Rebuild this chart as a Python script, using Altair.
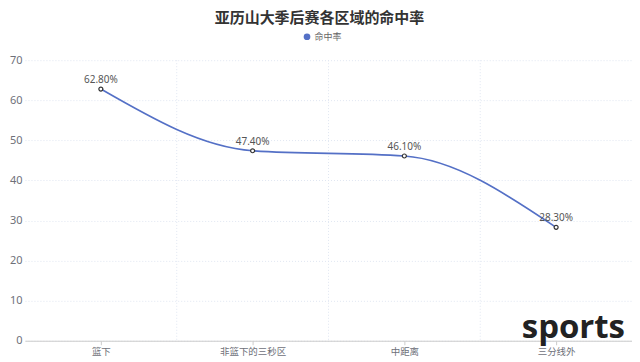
import altair as alt
import pandas as pd

categories = ["篮下", "非篮下的三秒区", "中距离", "三分线外"]
values = [62.8, 47.4, 46.1, 28.3]
labels = ["62.80%", "47.40%", "46.10%", "28.30%"]
series = "命中率"
boundaries = [-0.5, 0.5, 1.5, 2.5, 3.5]

df = pd.DataFrame({
    "idx": list(range(len(categories))),
    "cat": categories,
    "val": values,
    "lab": labels,
    "series": [series] * len(categories),
})

label_expr = "[" + ",".join(f"'{c}'" for c in categories) + "][datum.value]"

blue = "#5470c6"
axis_grey = "#6e7079"
grid_grey = "#e0e6f1"

xscale = alt.Scale(domain=[-0.5, 3.5], nice=False, zero=False)
yscale = alt.Scale(domain=[0, 70], nice=False)

x_main = alt.X(
    "idx:Q", scale=xscale, title=None,
    axis=alt.Axis(values=[0, 1, 2, 3], labelExpr=label_expr, grid=False,
                  domainColor="#ccc", tickColor="#ccc", tickSize=4,
                  labelColor=axis_grey, labelFontSize=9.5, labelPadding=2,
                  labelFont="Noto Sans CJK SC"),
)
y_main = alt.Y(
    "val:Q", scale=yscale, title=None,
    axis=alt.Axis(values=[0, 10, 20, 30, 40, 50, 60, 70], grid=True,
                  gridColor=grid_grey, gridDash=[1, 2], domain=False, ticks=False,
                  labelColor=axis_grey, labelFontSize=11, labelPadding=3,
                  labelFont="Noto Sans"),
)

line = alt.Chart(df).mark_line(interpolate="monotone", strokeWidth=1.6).encode(
    x=x_main,
    y=y_main,
    color=alt.Color(
        "series:N", scale=alt.Scale(range=[blue]), title=None,
        legend=alt.Legend(orient="none", legendX=278, legendY=-28, symbolType="circle",
                          symbolSize=45, symbolFillColor=blue, symbolStrokeColor=blue,
                          symbolStrokeWidth=0, labelColor="#666", symbolOffset=0,
                          labelFontSize=9, labelFont="Noto Sans CJK SC", labelOffset=3),
    ),
)

pts = alt.Chart(df).mark_point(filled=True, size=16, fill="white", stroke="#333",
                              strokeWidth=1.2, opacity=1).encode(
    x=alt.X("idx:Q", scale=xscale),
    y=alt.Y("val:Q", scale=yscale),
)

txt = alt.Chart(df).mark_text(baseline="middle", dy=-9, fontSize=10, color="#555",
                             font="Noto Sans").encode(
    x=alt.X("idx:Q", scale=xscale),
    y=alt.Y("val:Q", scale=yscale),
    text="lab:N",
)

bnd = pd.DataFrame({"b": boundaries[1:-1]})
vgrid = alt.Chart(bnd).mark_rule(color=grid_grey, strokeDash=[1, 2]).encode(
    x=alt.X("b:Q", scale=xscale),
)

wm = alt.Chart(pd.DataFrame({"t": ["sports"]})).mark_text(
    align="right", baseline="alphabetic", fontSize=33, fontWeight="bold",
    color="#222", font="Open Sans",
).encode(x=alt.value(601), y=alt.value(278), text="t:N")

chart = alt.layer(vgrid, line, pts, txt, wm).properties(
    width=608, height=281,
    autosize=alt.AutoSizeParams(type="none"),
    padding={"left": 17, "top": 52, "right": 0, "bottom": 21},
    title=alt.TitleParams("亚历山大季后赛各区域的命中率", fontSize=15, fontWeight="bold",
                          color="#333", font="Noto Sans CJK SC", anchor="middle",
                          dx=-9, offset=6),
).configure_view(stroke=None)

chart.save("out.html", embed_options={"renderer": "svg", "actions": False})
